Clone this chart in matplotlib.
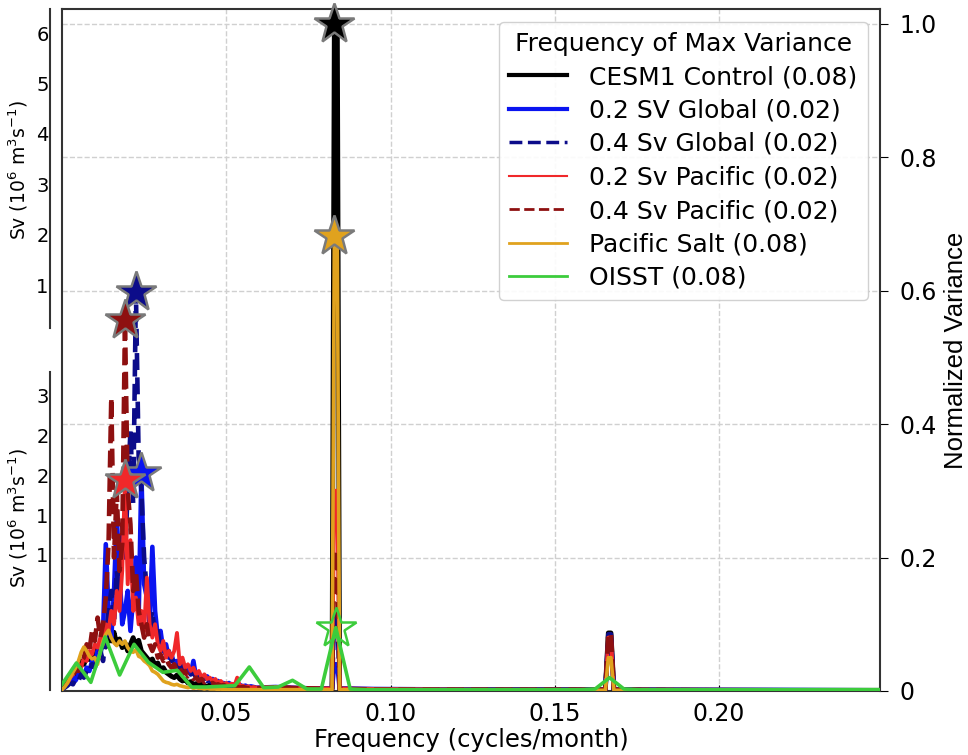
import numpy as np
import matplotlib
matplotlib.use("Agg")
import matplotlib.pyplot as plt
from matplotlib.lines import Line2D

# ---------------------------------------------------------------------------
# Frequency grids (cycles/month)
# ---------------------------------------------------------------------------
model_freq_low = np.arange(72) / 1200.0
model_freq_tail = np.array([0.065, 0.075, 0.0822, 0.0829, 0.0838, 0.0845, 0.095,
                            0.13, 0.1654, 0.1663, 0.1671, 0.168, 0.2, 0.249])
oisst_freq = np.arange(58) / 228.0

# ---------------------------------------------------------------------------
# Normalized variance spectra
# ---------------------------------------------------------------------------
ctrl_low = [0.004, 0.008, 0.015, 0.022, 0.03, 0.026, 0.038, 0.045, 0.04, 0.05,
            0.047, 0.058, 0.052, 0.064, 0.06, 0.072, 0.066, 0.08, 0.075, 0.088,
            0.07, 0.078, 0.065, 0.072, 0.06, 0.07, 0.08, 0.068, 0.076, 0.06,
            0.055, 0.05, 0.045, 0.048, 0.038, 0.042, 0.032, 0.035, 0.028, 0.025,
            0.022, 0.02, 0.024, 0.018, 0.015, 0.017, 0.012, 0.014, 0.01, 0.011,
            0.009, 0.01, 0.008, 0.007, 0.009, 0.006, 0.007, 0.005, 0.006, 0.005,
            0.005, 0.006, 0.004, 0.005, 0.004, 0.005, 0.004, 0.003, 0.004, 0.003,
            0.004, 0.003]
ctrl_tail = [0.004, 0.003, 0.003, 1.0, 1.0, 0.003, 0.002,
             0.002, 0.002, 0.087, 0.087, 0.002, 0.001, 0.001]

glob02_low = [0.003, 0.006, 0.01, 0.014, 0.02, 0.016, 0.025, 0.03, 0.022, 0.035,
              0.03, 0.045, 0.04, 0.06, 0.05, 0.09, 0.22, 0.12, 0.08, 0.15,
              0.26, 0.18, 0.1, 0.12, 0.15, 0.09, 0.14, 0.2, 0.11, 0.327,
              0.16, 0.14, 0.1, 0.216, 0.12, 0.08, 0.09, 0.06, 0.07, 0.05,
              0.055, 0.04, 0.045, 0.035, 0.04, 0.03, 0.035, 0.025, 0.045, 0.02,
              0.025, 0.02, 0.018, 0.022, 0.015, 0.018, 0.012, 0.015, 0.01, 0.012,
              0.01, 0.012, 0.008, 0.01, 0.008, 0.009, 0.007, 0.008, 0.006, 0.007,
              0.006, 0.005]
glob02_tail = [0.006, 0.004, 0.004, 0.04, 0.04, 0.004, 0.003,
               0.002, 0.002, 0.075, 0.075, 0.002, 0.002, 0.001]

glob04_low = [0.003, 0.005, 0.008, 0.012, 0.01, 0.018, 0.015, 0.025, 0.02, 0.03,
              0.028, 0.04, 0.035, 0.05, 0.06, 0.045, 0.08, 0.12, 0.15, 0.1,
              0.18, 0.14, 0.25, 0.2, 0.3, 0.39, 0.28, 0.598, 0.35, 0.3,
              0.2, 0.15, 0.1, 0.12, 0.08, 0.09, 0.06, 0.07, 0.05, 0.06,
              0.045, 0.05, 0.04, 0.035, 0.04, 0.03, 0.032, 0.025, 0.028, 0.02,
              0.022, 0.018, 0.02, 0.015, 0.017, 0.012, 0.014, 0.01, 0.012, 0.009,
              0.01, 0.008, 0.009, 0.007, 0.008, 0.006, 0.007, 0.005, 0.006, 0.005,
              0.005, 0.004]
glob04_tail = [0.005, 0.004, 0.003, 0.12, 0.12, 0.003, 0.002,
               0.002, 0.002, 0.085, 0.085, 0.002, 0.001, 0.001]

pac02_low = [0.004, 0.008, 0.012, 0.02, 0.025, 0.03, 0.04, 0.035, 0.05, 0.045,
             0.06, 0.055, 0.07, 0.065, 0.08, 0.07, 0.1, 0.09, 0.12, 0.1,
             0.15, 0.12, 0.18, 0.316, 0.16, 0.226, 0.12, 0.14, 0.1, 0.12,
             0.09, 0.17, 0.1, 0.08, 0.1, 0.07, 0.06, 0.075, 0.05, 0.06,
             0.05, 0.06, 0.087, 0.04, 0.05, 0.035, 0.04, 0.03, 0.035, 0.025,
             0.03, 0.02, 0.025, 0.018, 0.02, 0.015, 0.018, 0.012, 0.015, 0.01,
             0.012, 0.009, 0.011, 0.008, 0.02, 0.007, 0.008, 0.006, 0.007, 0.005,
             0.006, 0.005]
pac02_tail = [0.006, 0.004, 0.004, 0.30, 0.30, 0.004, 0.003,
              0.002, 0.002, 0.08, 0.08, 0.002, 0.002, 0.001]

pac04_low = [0.004, 0.01, 0.015, 0.025, 0.02, 0.035, 0.03, 0.045, 0.05, 0.07,
             0.06, 0.09, 0.075, 0.11, 0.08, 0.1, 0.14, 0.22, 0.44, 0.2,
             0.3, 0.18, 0.22, 0.556, 0.3, 0.25, 0.15, 0.18, 0.12, 0.1,
             0.08, 0.1, 0.07, 0.06, 0.07, 0.05, 0.055, 0.045, 0.05, 0.04,
             0.035, 0.04, 0.03, 0.035, 0.025, 0.03, 0.022, 0.025, 0.018, 0.02,
             0.015, 0.018, 0.013, 0.015, 0.011, 0.012, 0.009, 0.01, 0.008, 0.009,
             0.007, 0.008, 0.006, 0.007, 0.006, 0.005, 0.006, 0.005, 0.004, 0.005,
             0.004, 0.004]
pac04_tail = [0.005, 0.004, 0.003, 0.21, 0.21, 0.003, 0.002,
              0.002, 0.002, 0.086, 0.086, 0.002, 0.001, 0.001]

salt_low = [0.002, 0.006, 0.012, 0.02, 0.028, 0.035, 0.045, 0.058, 0.066, 0.06,
            0.052, 0.048, 0.05, 0.04, 0.06, 0.075, 0.085, 0.091, 0.08, 0.072,
            0.068, 0.075, 0.07, 0.075, 0.065, 0.06, 0.058, 0.062, 0.052, 0.05,
            0.045, 0.042, 0.038, 0.03, 0.028, 0.025, 0.02, 0.015, 0.013, 0.012,
            0.01, 0.009, 0.01, 0.008, 0.007, 0.006, 0.005, 0.006, 0.004, 0.005,
            0.004, 0.004, 0.003, 0.004, 0.003, 0.003, 0.003, 0.002, 0.003, 0.002,
            0.002, 0.002, 0.002, 0.002, 0.002, 0.002, 0.002, 0.002, 0.002, 0.002,
            0.002, 0.002]
salt_tail = [0.002, 0.002, 0.002, 0.682, 0.682, 0.002, 0.001,
             0.001, 0.001, 0.05, 0.05, 0.001, 0.001, 0.001]

oisst_var = [0.01, 0.042, 0.013, 0.081, 0.024, 0.07, 0.043, 0.028, 0.031, 0.006,
             0.006, 0.007, 0.008, 0.036, 0.005, 0.006, 0.016, 0.003, 0.003, 0.095,
             0.003, 0.002, 0.002, 0.002, 0.002, 0.002, 0.002, 0.002, 0.002, 0.002,
             0.002, 0.002, 0.002, 0.002, 0.002, 0.002, 0.002, 0.003, 0.02, 0.003,
             0.002, 0.002, 0.002, 0.002, 0.002, 0.002, 0.002, 0.002, 0.002, 0.002,
             0.002, 0.002, 0.002, 0.002, 0.002, 0.002, 0.002, 0.002]

model_freq = np.concatenate([model_freq_low, model_freq_tail])

series = [
    # name, freq, values, colour, linestyle, plot lw, legend lw, hollow star
    ("CESM1 Control", model_freq, ctrl_low + ctrl_tail, "black", "-", 3.5, 3.0, False),
    ("0.2 SV Global", model_freq, glob02_low + glob02_tail, "#0a14f0", "-", 3.3, 3.0, False),
    ("0.4 Sv Global", model_freq, glob04_low + glob04_tail, "#0c0c8a", "--", 3.3, 2.5, False),
    ("0.2 Sv Pacific", model_freq, pac02_low + pac02_tail, "#f0282a", "-", 2.8, 1.5, False),
    ("0.4 Sv Pacific", model_freq, pac04_low + pac04_tail, "#8e1010", "--", 3.3, 2.0, False),
    ("Pacific Salt", model_freq, salt_low + salt_tail, "#e0a21e", "-", 2.6, 2.0, False),
    ("OISST", oisst_freq, oisst_var, "#3ccc3c", "-", 2.6, 2.0, True),
]

W, H = 968, 755
fig = plt.figure(figsize=(W / 100, H / 100), dpi=100)


def fig_box(x0, y0, x1, y1):
    """Axes rectangle from pixel corners (top-left origin)."""
    return [x0 / W, (H - y1) / H, (x1 - x0) / W, (y1 - y0) / H]


ax = fig.add_axes(fig_box(62, 9, 880, 691))
ax.set_xlim(0, 0.249)
ax.set_ylim(0, 1.022)

handles = []
for name, f, v, col, ls, lw, leg_lw, hollow in series:
    v = np.asarray(v)
    line, = ax.plot(f, v, color=col, ls=ls, lw=lw, zorder=3)
    i = int(np.argmax(v))
    handles.append((line, f"{name} ({f[i]:.2f})", leg_lw))
    if hollow:
        ax.plot(f[i], v[i], marker="*", ms=30, mfc="none", mec=col, mew=1.8,
                zorder=6, clip_on=False)
    else:
        ax.plot(f[i], v[i], marker="*", ms=30, mfc=col, mec="#7a7a7a", mew=1.8,
                zorder=6, clip_on=False)

# legend with its own line widths
leg_handles = [Line2D([], [], color=h.get_color(), ls=h.get_linestyle(), lw=lw)
               for h, _, lw in handles]
leg = ax.legend(leg_handles, [lab for _, lab, _ in handles],
                title="Frequency of Max Variance", loc="upper right",
                fontsize=18, title_fontsize=18, borderaxespad=0.5,
                handlelength=2.3, handletextpad=0.9, labelspacing=0.38,
                framealpha=0.9, edgecolor="#cccccc", fancybox=True)
leg.set_zorder(10)

# axes styling
ax.set_xticks([0.05, 0.10, 0.15, 0.20])
ax.set_xticklabels(["0.05", "0.10", "0.15", "0.20"])
ax.tick_params(axis="x", direction="in", length=4, labelsize=17, pad=8)
ax.yaxis.tick_right()
ax.yaxis.set_label_position("right")
ax.set_yticks([0, 0.2, 0.4, 0.6, 0.8, 1.0])
ax.set_yticklabels(["0", "0.2", "0.4", "0.6", "0.8", "1.0"])
ax.tick_params(axis="y", direction="out", length=6, labelsize=17, pad=8)
ax.grid(True, ls="--", color="#d0d0d0", lw=1.0, zorder=0)
ax.set_axisbelow(True)
ax.set_xlabel("Frequency (cycles/month)", fontsize=17.5, labelpad=1)
ax.set_ylabel("Normalized Variance", fontsize=18.5,
              family=["Liberation Sans", "DejaVu Sans"])
ax.yaxis.set_label_coords(944 / W, (H - 350) / H, transform=fig.transFigure)
for s in ax.spines.values():
    s.set_color("#333333")
    s.set_linewidth(1.5)

# left-hand transport scales
sv_label = r"Sv (10$^6$ m$^3$s$^{-1}$)"

ax_top = fig.add_axes(fig_box(50, 9, 51, 328))
ax_top.set_ylim(0.15, 6.48)
ax_top.set_yticks([1, 2, 3, 4, 5, 6])
ax_top.set_yticklabels(["1", "2", "3", "4", "5", "6"])

ax_bot = fig.add_axes(fig_box(50, 372, 51, 690))
ax_bot.set_ylim(-0.69, 3.29)
ax_bot.set_yticks([1.0, 1.5, 2.0, 2.5, 3.0])
ax_bot.set_yticklabels(["1", "1", "2", "2", "3"])

for a, yc in ((ax_top, 170), (ax_bot, 518)):
    a.patch.set_alpha(0)
    a.set_xticks([])
    for side in ("top", "right", "bottom"):
        a.spines[side].set_visible(False)
    a.spines["left"].set_color("#333333")
    a.spines["left"].set_linewidth(1.5)
    a.tick_params(axis="y", length=0, labelsize=14, pad=1)
    a.set_ylabel(sv_label, fontsize=13.5)
    a.yaxis.set_label_coords(30 / W, (H - yc) / H, transform=fig.transFigure)

fig.savefig("out.png", dpi=100)
